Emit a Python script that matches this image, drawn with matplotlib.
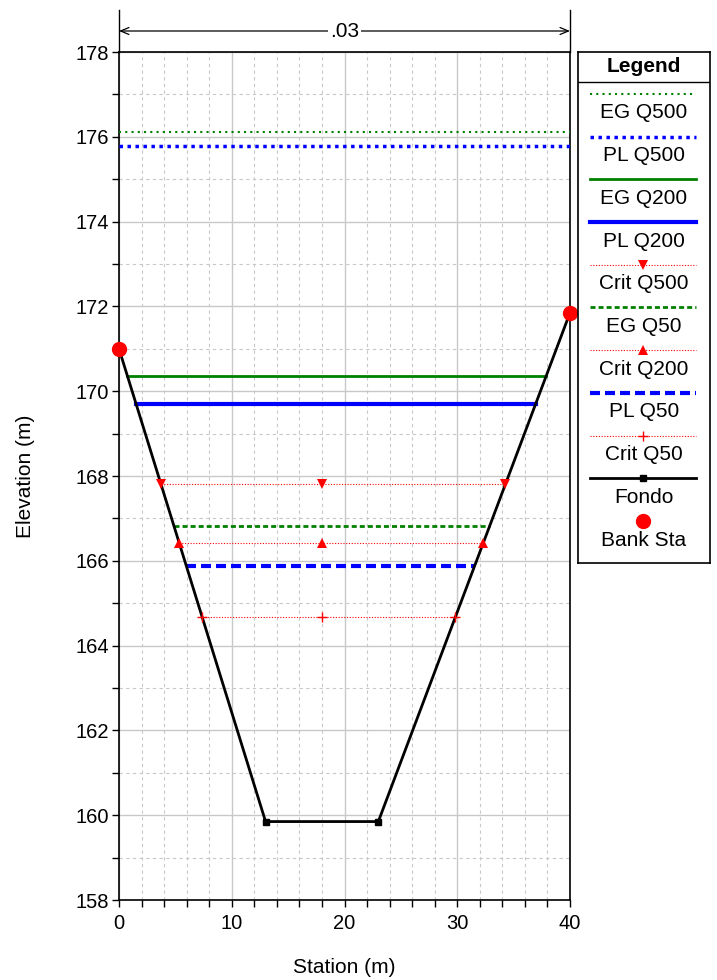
import numpy as np
import matplotlib
matplotlib.use("Agg")
import matplotlib.pyplot as plt
from matplotlib.ticker import MultipleLocator

plt.rcParams['font.family'] = ['Liberation Sans', 'DejaVu Sans']

# ground profile (Fondo)
station = [0, 13, 23, 40]
ground = [171.0, 159.85, 159.85, 171.85]
bank_sta = [0, 40]
channel_center = 18

# water surfaces
eg_q500 = 176.11
pl_q500 = 175.78
eg_q200 = 170.36
pl_q200 = 169.70
crit_q500 = 167.81
eg_q50 = 166.82
crit_q200 = 166.42
pl_q50 = 165.88
crit_q50 = 164.67
n_value = ".03"

GREEN = '#008000'
BLUE = '#0000FF'
RED = '#FF0000'


def wet_limits(wse):
    # where the water surface meets the left and right banks
    st = np.array(station, float)
    z = np.array(ground, float)
    i_min = int(np.argmin(z))
    left = np.interp(wse, z[:i_min + 1][::-1], st[:i_min + 1][::-1], left=st[0], right=st[0])
    right = np.interp(wse, z[i_min + 1:], st[i_min + 1:], left=st[-1], right=st[-1])
    if wse >= z[0]:
        left = st[0]
    if wse >= z[-1]:
        right = st[-1]
    return left, right


styles = {
    'EG Q500': dict(color=GREEN, lw=1.5, ls=(0, (1, 2))),
    'PL Q500': dict(color=BLUE, lw=2.5, ls=(0, (1, 1.3))),
    'EG Q200': dict(color=GREEN, lw=2, ls='-'),
    'PL Q200': dict(color=BLUE, lw=3, ls='-'),
    'Crit Q500': dict(color=RED, lw=0.8, ls=(0, (1, 1.5)), marker='v', ms=7.5),
    'EG Q50': dict(color=GREEN, lw=2, ls=(0, (1.8, 1.1))),
    'Crit Q200': dict(color=RED, lw=0.8, ls=(0, (1, 1.5)), marker='^', ms=7.5),
    'PL Q50': dict(color=BLUE, lw=3, ls=(0, (2.4, 1.2))),
    'Crit Q50': dict(color=RED, lw=0.8, ls=(0, (1, 1.5)), marker='+', ms=7),
}
levels = {
    'EG Q500': eg_q500, 'PL Q500': pl_q500, 'EG Q200': eg_q200,
    'PL Q200': pl_q200, 'Crit Q500': crit_q500, 'EG Q50': eg_q50,
    'Crit Q200': crit_q200, 'PL Q50': pl_q50, 'Crit Q50': crit_q50,
}

fig = plt.figure(figsize=(7.17, 9.8), dpi=100)
ax = fig.add_axes([119 / 717, 1 - 900 / 980, 451 / 717, 848 / 980])

for name, wse in levels.items():
    s = dict(styles[name])
    l, r = wet_limits(wse)
    marker = s.pop('marker', None)
    ms = s.pop('ms', None)
    ax.plot([l, r], [wse, wse], color=s['color'], lw=s['lw'], ls=s['ls'], zorder=3)
    if marker:
        mew = 1.0 if marker == '+' else 0
        ax.plot([l, channel_center, r], [wse] * 3, ls='none', marker=marker,
                ms=ms, color=s['color'], mew=mew, zorder=8)

ax.plot(station, ground, color='black', lw=2, zorder=5)
ax.plot(station[1:-1], ground[1:-1], ls='none', marker='s', ms=4.5, color='black', zorder=6)
bank_z = np.interp(bank_sta, station, ground)
ax.plot(bank_sta, bank_z, ls='none', marker='o', ms=10, color=RED, zorder=9, clip_on=False)

ax.set_xlim(0, 40)
ax.set_ylim(158, 178)
ax.xaxis.set_major_locator(MultipleLocator(10))
ax.xaxis.set_minor_locator(MultipleLocator(2))
ax.yaxis.set_major_locator(MultipleLocator(2))
ax.yaxis.set_minor_locator(MultipleLocator(1))
ax.grid(which='major', color='#c8c8c8', lw=1, ls='-')
ax.grid(which='minor', color='#c8c8c8', lw=0.8, ls=(0, (3, 3)))
ax.set_axisbelow(True)
ax.tick_params(which='both', direction='out', length=5, width=1, labelsize=14.5)
ax.tick_params(axis='x', pad=5)
ax.tick_params(axis='y', pad=2)
for sp in ax.spines.values():
    sp.set_linewidth(1.2)
ax.set_xlabel('Station (m)', fontsize=15, labelpad=18)
ax.set_ylabel('Elevation (m)', fontsize=15, labelpad=29)

# Manning's n annotation above the plot
for xs in bank_sta:
    ax.plot([xs, xs], [178, 178 + 42 / 42.4], color='black', lw=1, clip_on=False)
y_arrow = 178 + 21 / 42.4
ax.annotate('', xy=(0, y_arrow), xytext=(40, y_arrow),
            arrowprops=dict(arrowstyle='<->,head_length=0.6,head_width=0.25', color='black', lw=0.9,
                            shrinkA=0, shrinkB=0), annotation_clip=False)
ax.text(20, y_arrow, n_value, ha='center', va='center', fontsize=15,
        bbox=dict(facecolor='white', edgecolor='none', pad=1.5), clip_on=False)

# legend box
lg = fig.add_axes([578 / 717, 1 - 563 / 980, 132 / 717, 511 / 980])
lg.set_xlim(0, 132)
lg.set_ylim(511, 0)
lg.set_xticks([])
lg.set_yticks([])
for sp in lg.spines.values():
    sp.set_linewidth(1.2)
lg.text(66, 14, 'Legend', ha='center', va='center', fontsize=15, fontweight='bold')
lg.axhline(30, color='black', lw=1)

entries = list(styles.keys())
entries = entries + ['Fondo', 'Bank Sta']
for i, name in enumerate(entries):
    ly = 42 + 42.7 * i
    if name in styles:
        s = dict(styles[name])
        marker = s.pop('marker', None)
        ms = s.pop('ms', None)
        lg.plot([12, 118], [ly, ly], color=s['color'], lw=s['lw'], ls=s['ls'])
        if marker:
            mew = 1.0 if marker == '+' else 0
            lg.plot([65], [ly], marker=marker, ms=ms, color=s['color'], mew=mew, ls='none')
    elif name == 'Fondo':
        lg.plot([12, 118], [ly, ly], color='black', lw=2)
        lg.plot([65], [ly], marker='s', ms=4.5, color='black', ls='none')
    else:
        lg.plot([65], [ly], marker='o', ms=10, color=RED, ls='none')
    lg.text(66, ly + 19, name, ha='center', va='center', fontsize=15)

fig.savefig('out.png', dpi=100)
